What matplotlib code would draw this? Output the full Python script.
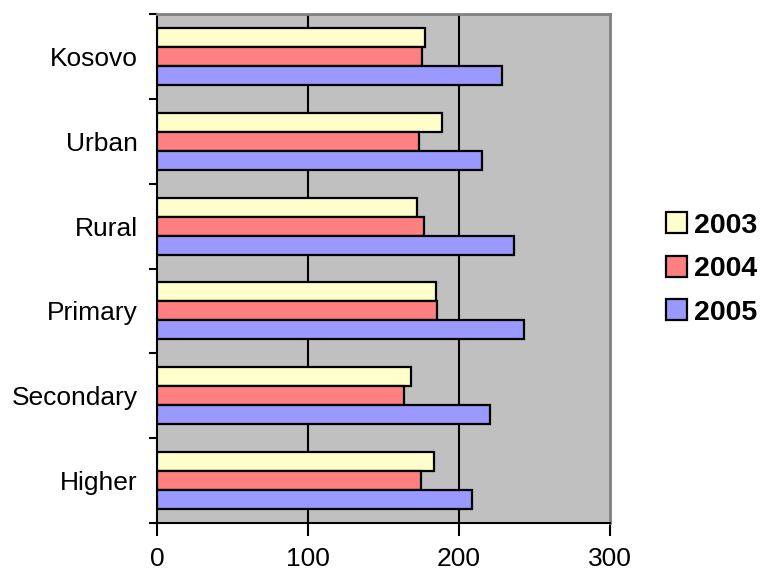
import matplotlib
matplotlib.use("Agg")
import matplotlib.pyplot as plt
import numpy as np

# categories from bottom to top
categories = ["Higher", "Secondary", "Primary", "Rural", "Urban", "Kosovo"]
years = ["2003", "2004", "2005"]
values_2003 = [183.7, 168.1, 184.6, 172.5, 188.8, 177.6]
values_2004 = [174.9, 163.7, 185.7, 176.7, 173.4, 175.6]
values_2005 = [208.9, 220.8, 243.3, 236.5, 215.5, 228.7]
colors = ["#FFFFCC", "#FF8080", "#9999FF"]

plt.rcParams["font.family"] = ["Liberation Sans", "DejaVu Sans"]

fig = plt.figure(figsize=(7.65, 5.76), dpi=100)
ax = fig.add_axes([157 / 765, 1 - 523 / 576, 453 / 765, 509 / 576])

y = np.arange(len(categories))
h = 0.224
series = [values_2003, values_2004, values_2005]
offsets = [h, 0, -h]
for vals, off, col, lab in zip(series, offsets, colors, years):
    ax.barh(y + off, vals, height=h, color=col, edgecolor="black",
            linewidth=1.6, label=lab, zorder=3)

ax.set_facecolor("#C0C0C0")
ax.set_xlim(0, 300)
ax.set_ylim(-0.5, len(categories) - 0.5)
ax.set_xticks([0, 100, 200, 300])
ax.set_yticks(y)
ax.set_yticklabels(categories)
ax.set_yticks(np.arange(-0.5, len(categories)), minor=True)
ax.tick_params(axis="y", which="major", length=0, pad=14, labelsize=19)
ax.tick_params(axis="y", which="minor", length=6, width=1.5, direction="out")
ax.tick_params(axis="x", length=9, width=1.5, direction="out", pad=8,
               labelsize=19)

for xv in [100, 200]:
    ax.axvline(xv, color="black", linewidth=1.5, zorder=1)

for side in ["left", "bottom"]:
    ax.spines[side].set_color("black")
    ax.spines[side].set_linewidth(1.5)
for side in ["right", "top"]:
    ax.spines[side].set_color("#808080")
    ax.spines[side].set_linewidth(2)

leg = fig.legend(loc="center left", bbox_to_anchor=(666 / 765, 1 - 269 / 576),
                 frameon=False, prop={"weight": "bold", "size": 20.5},
                 handlelength=0.75, handleheight=0.75, handletextpad=0.25,
                 labelspacing=0.6, borderaxespad=0, borderpad=0)

fig.savefig("out.png", dpi=100)
